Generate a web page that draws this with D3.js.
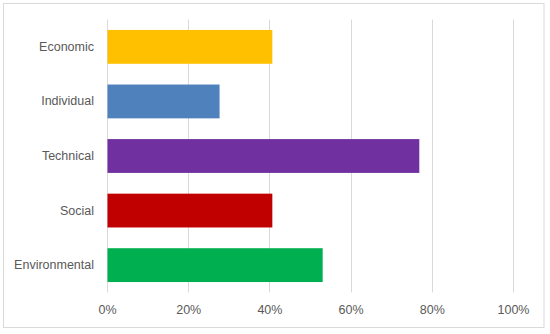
<!DOCTYPE html>
<html>
<head>
<meta charset="utf-8">
<script src="https://cdn.jsdelivr.net/npm/d3@7"></script>
<style>
  body { margin: 0; background: #fff; }
  svg { display: block; }
</style>
</head>
<body>
<svg id="chart" width="550" height="334"></svg>
<script>
// chart data
var categories = ["Economic", "Individual", "Technical", "Social", "Environmental"];
var values = [0.406, 0.276, 0.768, 0.406, 0.530];
var colors = ["#ffc000", "#4f81bd", "#7030a0", "#c00000", "#00b050"];
var xTicks = [0, 0.2, 0.4, 0.6, 0.8, 1.0];

var svg = d3.select("#chart");

// outer frame
svg.append("rect")
  .attr("x", 3.5).attr("y", 3.5)
  .attr("width", 540.5).attr("height", 324)
  .attr("fill", "#fff")
  .attr("stroke", "#d9d9d9")
  .attr("stroke-width", 1);

var x = d3.scaleLinear().domain([0, 1]).range([107, 513]);
var y = d3.scaleBand().domain(categories).range([19.6, 292.4]).paddingInner(0.38).paddingOuter(0.19);

// gridlines
svg.append("g").selectAll("line")
  .data(xTicks)
  .enter()
  .append("line")
    .attr("x1", function(d) { return Math.round(x(d)) + 0.5; })
    .attr("x2", function(d) { return Math.round(x(d)) + 0.5; })
    .attr("y1", 19.6)
    .attr("y2", 292.4)
    .attr("stroke", "#d9d9d9")
    .attr("stroke-width", 1);

// bars
svg.append("g").selectAll("rect")
  .data(values)
  .enter()
  .append("rect")
    .attr("x", x(0) + 0.5)
    .attr("y", function(d, i) { return y(categories[i]); })
    .attr("width", function(d) { return x(d) - x(0); })
    .attr("height", y.bandwidth())
    .attr("fill", function(d, i) { return colors[i]; });

// x axis labels
var xAxis = d3.axisBottom(x)
  .tickValues(xTicks)
  .tickSize(0)
  .tickPadding(0)
  .tickFormat(d3.format(".0%"));

var gx = svg.append("g")
  .attr("transform", "translate(0,314)")
  .call(xAxis);
gx.select(".domain").remove();
gx.selectAll("text")
  .attr("dy", 0)
  .attr("fill", "#595959")
  .style("font-family", "'Liberation Sans', Arial, sans-serif")
  .style("font-size", "12.5px");

// y axis labels
var yAxis = d3.axisLeft(y).tickSize(0).tickPadding(0);
var gy = svg.append("g")
  .attr("transform", "translate(94,0)")
  .call(yAxis);
gy.select(".domain").remove();
gy.selectAll("text")
  .attr("fill", "#595959")
  .style("font-family", "'Liberation Sans', Arial, sans-serif")
  .style("font-size", "12.5px");
</script>
</body>
</html>
